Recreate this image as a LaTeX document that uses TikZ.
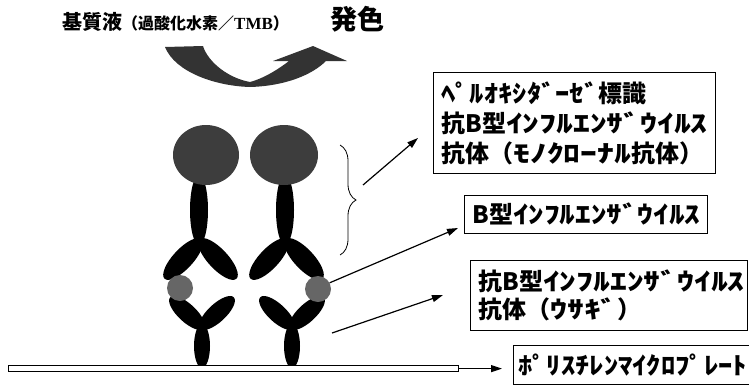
\documentclass[tikz,border=0pt]{standalone}
\usepackage{fontspec}
\setmainfont{Liberation Serif}
\newfontfamily\jp{Noto Sans CJK JP}
% half-width kana, widened to several degrees
\newfontfamily\jpk{Noto Sans CJK JP}[FakeStretch=1.4]
\newfontfamily\jpkm{Noto Sans CJK JP}[FakeStretch=1.3]
\newfontfamily\jpks{Noto Sans CJK JP}[FakeStretch=1.19]
\newcommand\hk[1]{{\jpk #1}}
\newcommand\hkm[1]{{\jpkm #1}}
\newcommand\hks[1]{{\jpks #1}}
\usetikzlibrary{arrows.meta,decorations.pathreplacing}

\definecolor{headgray}{gray}{0.24}
\definecolor{virusgray}{gray}{0.40}
\definecolor{swirlgray}{gray}{0.2}

\tikzset{
  labelbox/.style={draw, line width=0.8pt, anchor=north west, inner xsep=8pt,
    inner ysep=0pt, align=left,
    font=\jp\bfseries\fontsize{24}{30}\selectfont},
  ptr/.style={line width=1.2pt, -{Triangle[length=11pt,width=7pt]}},
  arm/.style={fill=black},
}

\begin{document}
\begin{tikzpicture}[x=1pt,y=-1pt]
\useasboundingbox (0,0) rectangle (749,386);

% reagent and colour development
\node[anchor=west, inner sep=0, font=\jp\bfseries\fontsize{20}{24}\selectfont] (subs) at (62,22)
  {基質液{\fontsize{16}{18}\selectfont （過酸化水素／{\rmfamily\fontsize{17}{18}\selectfont TMB}）}};
\node[anchor=west, inner sep=0, font=\jp\bfseries\fontsize{27}{30}\selectfont] (color) at (330,19) {発色};

% curved reaction arrow
\fill[swirlgray] (165,47) -- (203,46)
  .. controls (208,62) and (228,78) .. (250,82)
  .. controls (265,78) and (280,68) .. (289,61)
  -- (273,61) -- (313,46) -- (347,61) -- (326,61)
  .. controls (312,75) and (285,86) .. (250,87)
  .. controls (215,86) and (175,72) .. (165,47) -- cycle;

% labelled antibodies (upper)
\foreach \cx in {199,285} {
  \fill[arm] (\cx,210) ellipse [x radius=9, y radius=35];
  \fill[arm, rotate around={47:(\cx-16,259)}] (\cx-16,259) ellipse [x radius=27, y radius=10];
  \fill[arm, rotate around={-47:(\cx+19,259)}] (\cx+19,259) ellipse [x radius=27, y radius=10];
}
\fill[headgray] (206,155) ellipse [x radius=33, y radius=30];
\fill[headgray] (284,155) ellipse [x radius=34, y radius=30];

% capture antibodies (lower)
\foreach \cx in {202,292} {
  \fill[arm] (\cx,346) ellipse [x radius=8, y radius=22];
  \fill[arm, rotate around={-43:(\cx-15,313)}] (\cx-15,313) ellipse [x radius=23, y radius=9];
  \fill[arm, rotate around={43:(\cx+15,313)}] (\cx+15,313) ellipse [x radius=23, y radius=9];
}

% virus particles
\node[circle, fill=virusgray, minimum size=26pt, inner sep=0] (virL) at (180,288) {};
\node[circle, fill=virusgray, minimum size=26pt, inner sep=0] (virR) at (318,289) {};

% microplate
\node[draw, line width=0.8pt, fill=white, anchor=south west, minimum width=450pt,
  minimum height=6pt, inner sep=0] (plate) at (8,372) {};

% brace over the labelled antibody
\draw[line width=0.8pt, decorate, decoration={brace, amplitude=16pt}] (340,145) -- (340,255);

% label boxes
\node[labelbox, minimum width=282pt, minimum height=101pt, text width=266pt] (box1) at (433,72)
  {\hks{ﾍﾟﾙｵｷｼﾀﾞｰｾﾞ}標識\\抗B型\hk{ｲﾝﾌﾙｴﾝｻﾞｳｲﾙｽ}\\抗体（\hk{ﾓﾉｸﾛｰﾅﾙ}抗体）};
\node[labelbox, minimum width=243pt, minimum height=38pt, text width=227pt] (box2) at (464,195)
  {B型\hkm{ｲﾝﾌﾙｴﾝｻﾞｳｲﾙｽ}};
\node[labelbox, minimum width=277pt, minimum height=70pt, text width=261pt,
  font=\jp\bfseries\fontsize{24}{28}\selectfont] (box3) at (470,260)
  {抗B型\hk{ｲﾝﾌﾙｴﾝｻﾞｳｲﾙｽ}\\抗体（\hk{ｳｻｷﾞ}）};
\node[labelbox, inner xsep=5pt, minimum width=240pt, minimum height=39pt, text width=230pt] (box4) at (513,345)
  {\hks{ﾎﾟﾘｽﾁﾚﾝﾏｲｸﾛﾌﾟﾚｰﾄ}};

% pointers
\coordinate (brtip) at (363,185);
\coordinate (p1) at (418,138);
\coordinate (p2) at (458,228);
\coordinate (capfoot) at (332,333);
\coordinate (p3) at (443,295);
\draw[ptr] (brtip) -- (p1);
\draw[ptr] (virR.28) -- (p2);
\draw[ptr] (capfoot) -- (p3);
\draw[ptr, shorten >=11pt] (plate.east) -- (box4.west |- plate.east);
\end{tikzpicture}
\end{document}
